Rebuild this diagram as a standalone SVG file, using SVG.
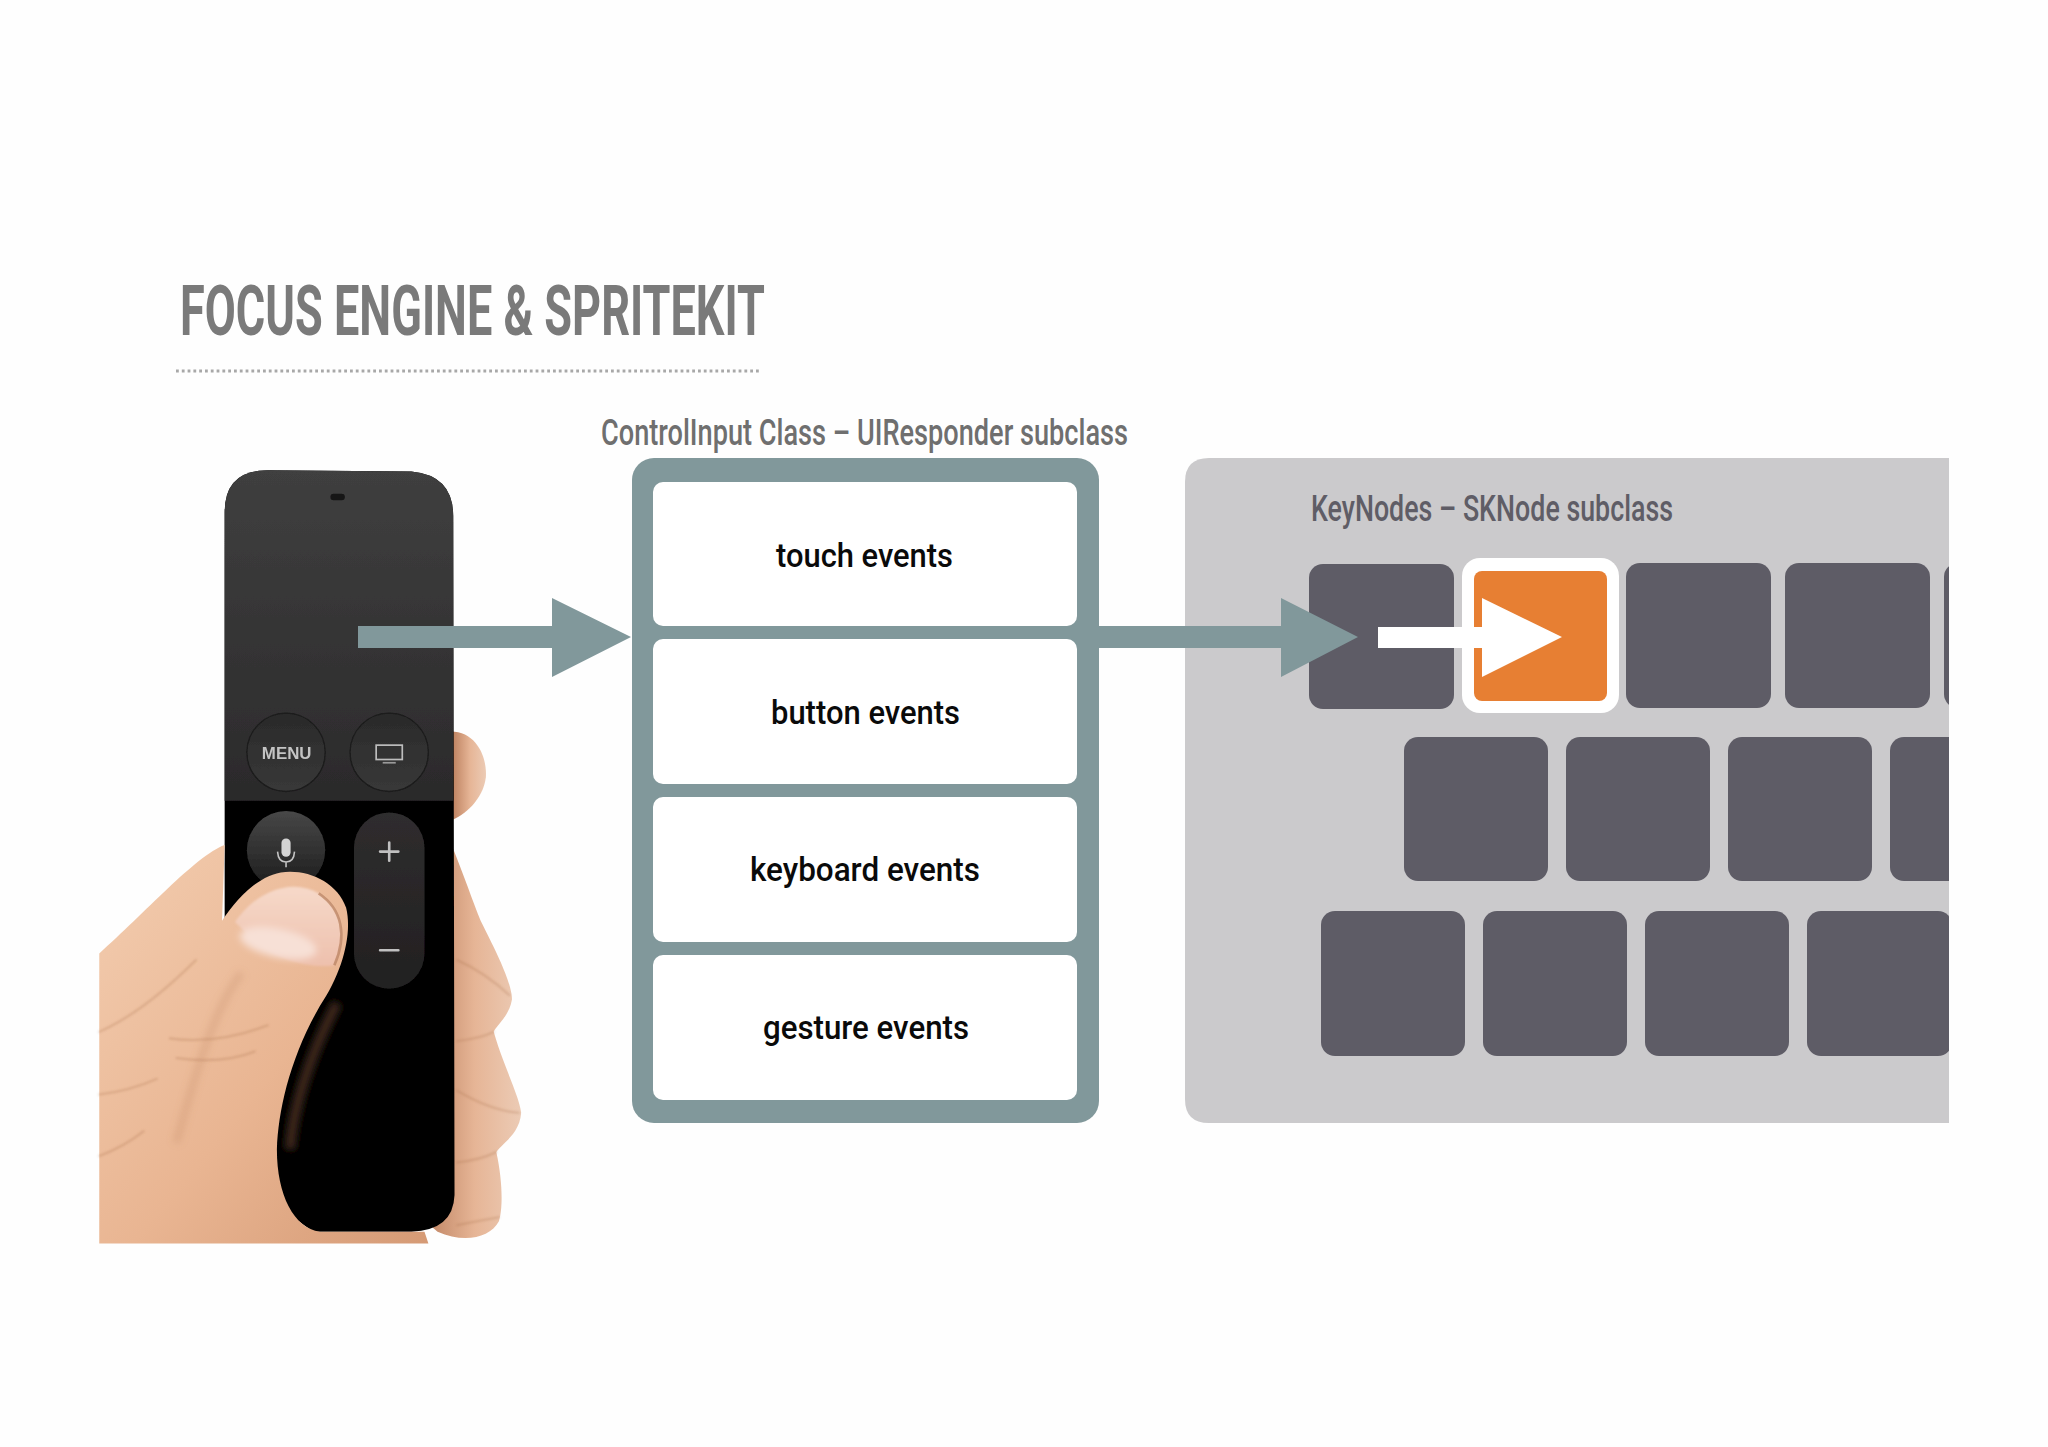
<svg xmlns="http://www.w3.org/2000/svg" width="2048" height="1447" viewBox="0 0 2048 1447">
<style>
.sans{font-family:"Roboto","Liberation Sans",sans-serif}
.ev{font-size:34px;font-weight:500;fill:#0a0a0a;text-anchor:start}
.cell{fill:#fff}
.key{fill:#5e5c66}
.line{fill:none;stroke:#c0c0c0;stroke-linecap:round}
.crease{fill:none;stroke:#a96f4b;stroke-opacity:.3;stroke-width:1.6;stroke-linecap:round}
</style>
<defs>
<linearGradient id="rem" x1="0" y1="0" x2="0" y2="1"><stop offset="0" stop-color="#3f3f3f"/><stop offset="1" stop-color="#2b2a2b"/></linearGradient>
<linearGradient id="btn" x1="0" y1="0" x2="0" y2="1"><stop offset="0" stop-color="#2a2a2a"/><stop offset="1" stop-color="#383838"/></linearGradient>
<linearGradient id="mic" x1="0" y1="0" x2="0" y2="1"><stop offset="0" stop-color="#474747"/><stop offset="1" stop-color="#1c1c1c"/></linearGradient>
<linearGradient id="vol" x1="0" y1="0" x2="0" y2="1"><stop offset="0" stop-color="#2f2d2e"/><stop offset="1" stop-color="#222021"/></linearGradient>
<linearGradient id="skin" x1="0" y1="0" x2="1" y2="1"><stop offset="0" stop-color="#f3cdb0"/><stop offset=".55" stop-color="#e9b592"/><stop offset="1" stop-color="#d59a75"/></linearGradient>
<linearGradient id="skin2" x1="0" y1="0" x2="1" y2="0"><stop offset="0" stop-color="#b97c5a"/><stop offset=".55" stop-color="#e6b596"/><stop offset="1" stop-color="#eccbb5"/></linearGradient>
<linearGradient id="nail" x1="0" y1="0" x2="0" y2="1"><stop offset="0" stop-color="#f6d9c9"/><stop offset="1" stop-color="#eec0ad"/></linearGradient>
<filter id="soft" x="-5%" y="-5%" width="110%" height="110%"><feGaussianBlur stdDeviation="0.6"/></filter>
<filter id="soft2" x="-20%" y="-20%" width="140%" height="140%"><feGaussianBlur stdDeviation="3"/></filter>
<filter id="soft1" x="-5%" y="-5%" width="110%" height="110%"><feGaussianBlur stdDeviation="1"/></filter>
</defs>
<rect width="2048" height="1447" fill="#fefefe"/>

<g id="title">
<text class="sans" x="180" y="335" font-size="70" font-weight="700" fill="#7a7a7a" textLength="585" lengthAdjust="spacingAndGlyphs">FOCUS ENGINE &amp; SPRITEKIT</text>
<line x1="176" y1="371" x2="760" y2="371" stroke="#a8a8a8" stroke-width="3" stroke-dasharray="2.8 3"/>
</g>

<g id="remote-in-hand" transform="scale(1.30612)" filter="url(#soft)">
<path fill="url(#skin2)" d="M345 560C365 560 373 580 372 595C370 612 355 625 345 628Z"/>
<path fill="url(#skin2)" d="M347 650C355 670 362 690 368 705C378 725 392 752 392 765C390 778 380 785 378 790C385 815 398 840 399 852C398 868 385 875 380 882C385 905 385 925 382 935C375 948 355 952 335 943L320 930L340 860Z"/>
<path class="crease" filter="url(#soft1)" d="M350 735Q372 745 390 762M350 797Q368 795 378 790M350 835Q375 850 397 852M350 890Q368 888 380 882M350 938Q365 935 382 932"/>
<path fill="#000" d="M172 392Q172 360 205 360L315 361Q347 364 347 395L348 915Q347 942 315 943L240 943Q172 900 172 800Z"/>
<path fill="url(#rem)" d="M172 392Q172 360 205 360L315 361Q347 364 347 395L347 613L172 613Z"/>
<rect x="253" y="378" width="11" height="5" rx="2.5" fill="#141414"/>
<circle cx="219" cy="576" r="30" fill="url(#btn)" stroke="#1b1b1b" stroke-width="1"/>
<circle cx="298" cy="576" r="30" fill="url(#btn)" stroke="#1b1b1b" stroke-width="1"/>
<text x="219.500" y="581" font-family="'Liberation Sans',sans-serif" font-size="12.500" font-weight="700" fill="#c4c4c4" text-anchor="middle" textLength="38" lengthAdjust="spacingAndGlyphs">MENU</text>
<rect x="288" y="570.500" width="20" height="11" fill="none" stroke="#bdbdbd" stroke-width="1.300"/>
<line x1="293" y1="584" x2="303" y2="584" stroke="#9a9a9a" stroke-width="1.300"/>
<ellipse cx="219" cy="651" rx="30" ry="30" fill="url(#mic)"/>
<rect x="215.500" y="642" width="7" height="14" rx="3.500" fill="#d4d4d4"/>
<path d="M212.500 652Q213 660 219 660Q225 660 225.500 652M219 660V664" fill="none" stroke="#c4c4c4" stroke-width="1.200"/>
<rect x="271" y="622" width="54" height="135" rx="27" fill="url(#vol)"/>
<path class="line" stroke-width="2" d="M298 645V659M291 652H305M291 727.500H305"/>
<path fill="url(#skin)" d="M172 647C150 655 110 700 76 730L76 952L328 952L325 943L245 943C225 940 212 915 212 880C213 850 222 810 245 770C262 745 270 715 265 695C258 675 235 665 215 668C195 672 180 690 170 705Z"/>
<path d="M180 706C196 682 224 672 244 684C262 696 266 716 256 739C238 742 214 735 196 722Z" fill="url(#nail)" filter="url(#soft1)"/>
<ellipse cx="213" cy="722" rx="30" ry="11" fill="#f7e0d6" transform="rotate(12 213 722)" filter="url(#soft2)"/>
<path d="M256 739C266 716 262 696 244 684" fill="none" stroke="#b77f5e" stroke-opacity=".7" stroke-width="2"/>
<path class="crease" filter="url(#soft1)" d="M76 790Q110 775 150 735M76 838Q100 835 120 826M76 885Q95 878 110 866M130 795Q165 800 205 785M135 810Q170 815 195 805"/>
<path d="M135 875C150 820 165 770 185 745" fill="none" stroke="#b77a55" stroke-opacity=".22" stroke-width="6" filter="url(#soft2)"/>
<path d="M222 880C224 850 236 810 258 768" fill="none" stroke="#9c6544" stroke-opacity=".4" stroke-width="8" filter="url(#soft2)"/>
</g>

<g id="control-input">
<text class="sans" x="601" y="445" font-size="36" font-weight="500" fill="#6f6f6f" textLength="527" lengthAdjust="spacingAndGlyphs">ControlInput Class – UIResponder subclass</text>
<rect x="632" y="458" width="467" height="665" rx="22" fill="#81989b"/>
</g>
<g id="touch-events"><rect class="cell" x="653" y="482" width="424" height="144" rx="10"/><text class="sans ev" x="776" y="567" textLength="177" lengthAdjust="spacingAndGlyphs">touch events</text></g>
<g id="button-events"><rect class="cell" x="653" y="639" width="424" height="145" rx="10"/><text class="sans ev" x="771" y="724" textLength="189" lengthAdjust="spacingAndGlyphs">button events</text></g>
<g id="keyboard-events"><rect class="cell" x="653" y="797" width="424" height="145" rx="10"/><text class="sans ev" x="750" y="881" textLength="230" lengthAdjust="spacingAndGlyphs">keyboard events</text></g>
<g id="gesture-events"><rect class="cell" x="653" y="955" width="424" height="145" rx="10"/><text class="sans ev" x="763" y="1039" textLength="206" lengthAdjust="spacingAndGlyphs">gesture events</text></g>

<g id="keynodes">
<path d="M1949 458H1209Q1185 458 1185 482V1099Q1185 1123 1209 1123H1949Z" fill="#cbcacc"/>
<text class="sans" x="1311" y="521" font-size="36" font-weight="500" fill="#5f5d66" textLength="362" lengthAdjust="spacingAndGlyphs">KeyNodes – SKNode subclass</text>
</g>
<g id="keys">
<clipPath id="panelclip"><rect x="1185" y="458" width="764" height="665"/></clipPath>
<g clip-path="url(#panelclip)">
<rect class="key" x="1309" y="564" width="145" height="145" rx="14"/>
<rect class="key" x="1626" y="563" width="145" height="145" rx="14"/>
<rect class="key" x="1785" y="563" width="145" height="145" rx="14"/>
<rect class="key" x="1944" y="563" width="145" height="145" rx="14"/>
<rect class="key" x="1404" y="737" width="144" height="144" rx="14"/>
<rect class="key" x="1566" y="737" width="144" height="144" rx="14"/>
<rect class="key" x="1728" y="737" width="144" height="144" rx="14"/>
<rect class="key" x="1890" y="737" width="145" height="144" rx="14"/>
<rect class="key" x="1321" y="911" width="144" height="145" rx="14"/>
<rect class="key" x="1483" y="911" width="144" height="145" rx="14"/>
<rect class="key" x="1645" y="911" width="144" height="145" rx="14"/>
<rect class="key" x="1807" y="911" width="145" height="145" rx="14"/>
</g>
<rect x="1462" y="558" width="157" height="155" rx="18" fill="#fff"/>
<rect x="1474" y="571" width="133" height="130" rx="8" fill="#e77f33"/>
</g>
<g id="connectors">
<path fill="#81989b" d="M358 626H552V598L631 637L552 677V648H358Z"/>
<path fill="#81989b" d="M1098 626H1281V598L1358 637L1281 677V648H1098Z"/>
<path fill="#fff" d="M1378 627H1482V598L1562 637L1482 677V648H1378Z"/>
</g>
</svg>
